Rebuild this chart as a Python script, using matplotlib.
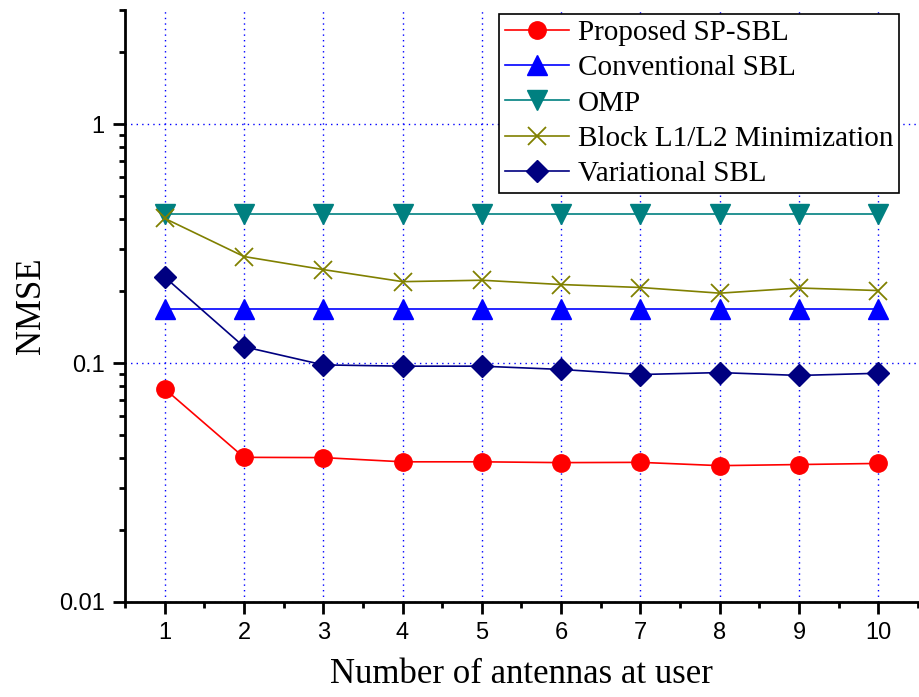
import matplotlib
matplotlib.use("Agg")
import matplotlib.pyplot as plt
import matplotlib.ticker as ticker
import numpy as np

antennas = [1, 2, 3, 4, 5, 6, 7, 8, 9, 10]

nmse_sp_sbl = [0.078, 0.0403, 0.0402, 0.0386, 0.0386, 0.0383, 0.0384, 0.0372, 0.0376, 0.0380]
nmse_conv_sbl = [0.168, 0.168, 0.168, 0.168, 0.168, 0.168, 0.168, 0.168, 0.168, 0.168]
nmse_omp = [0.422, 0.422, 0.422, 0.422, 0.422, 0.422, 0.422, 0.422, 0.422, 0.422]
nmse_block = [0.403, 0.279, 0.246, 0.219, 0.222, 0.213, 0.207, 0.196, 0.206, 0.201]
nmse_var_sbl = [0.229, 0.117, 0.0982, 0.097, 0.097, 0.094, 0.0895, 0.0912, 0.0887, 0.0906]

serif = "Liberation Serif"
sans = "Liberation Sans"


def main():
	fig = plt.figure(figsize=(9.2, 6.97), dpi=100)
	ax = fig.add_axes([125 / 920, 1 - 602 / 697, (918 - 125) / 920, (602 - 10) / 697])

	ax.plot(antennas, nmse_sp_sbl, color="#ff0000", lw=1.2, marker="o", ms=12.5, label="Proposed SP-SBL")
	ax.plot(antennas, nmse_conv_sbl, color="#0000ff", lw=1.2, marker="^", ms=14, label="Conventional SBL")
	ax.plot(antennas, nmse_omp, color="#008080", lw=1.2, marker="v", ms=14, label="OMP")
	ax.plot(antennas, nmse_block, color="#808000", lw=1.2, marker="x", ms=13, mew=1.3, label="Block L1/L2 Minimization")
	ax.plot(antennas, nmse_var_sbl, color="#000080", lw=1.2, marker="D", ms=11, label="Variational SBL")

	ax.set_yscale("log")
	ax.set_xlim(0.5, 10.5)
	ax.set_ylim(0.01, 3)

	ax.set_xticks(antennas)
	ax.xaxis.set_minor_locator(ticker.MultipleLocator(0.5))
	ax.set_yticks([0.01, 0.1, 1])
	ax.set_yticklabels(["0.01", "0.1", "1"])
	ax.yaxis.set_minor_locator(ticker.LogLocator(base=10, subs=np.arange(2, 10)))
	ax.yaxis.set_minor_formatter(ticker.NullFormatter())

	ax.grid(True, which="major", color="#0000ff", ls=(0, (1, 3)), lw=1.0)

	for side in ["top", "right"]:
		ax.spines[side].set_visible(False)
	for side in ["left", "bottom"]:
		ax.spines[side].set_linewidth(2)

	ax.tick_params(which="major", direction="out", length=8.5, width=2, labelsize=17, pad=6)
	ax.tick_params(which="minor", direction="out", length=4.5, width=2)
	for lab in ax.get_xticklabels() + ax.get_yticklabels():
		lab.set_fontfamily(sans)

	ax.set_xlabel("Number of antennas at user", fontsize=25, family=serif, labelpad=10)
	ax.set_ylabel("NMSE", fontsize=25, family=serif, labelpad=8)

	leg = ax.legend(loc="upper right", bbox_to_anchor=(899 / 920, 1 - 14 / 697),
			bbox_transform=fig.transFigure, borderaxespad=0, fancybox=False,
			edgecolor="black", framealpha=1, prop={"family": serif, "size": 21},
			handlelength=2.2, handletextpad=0.3, labelspacing=0.3, borderpad=0.2)
	leg.get_frame().set_linewidth(1.2)

	fig.savefig("out.png", dpi=100)


if __name__ == "__main__":
	main()
